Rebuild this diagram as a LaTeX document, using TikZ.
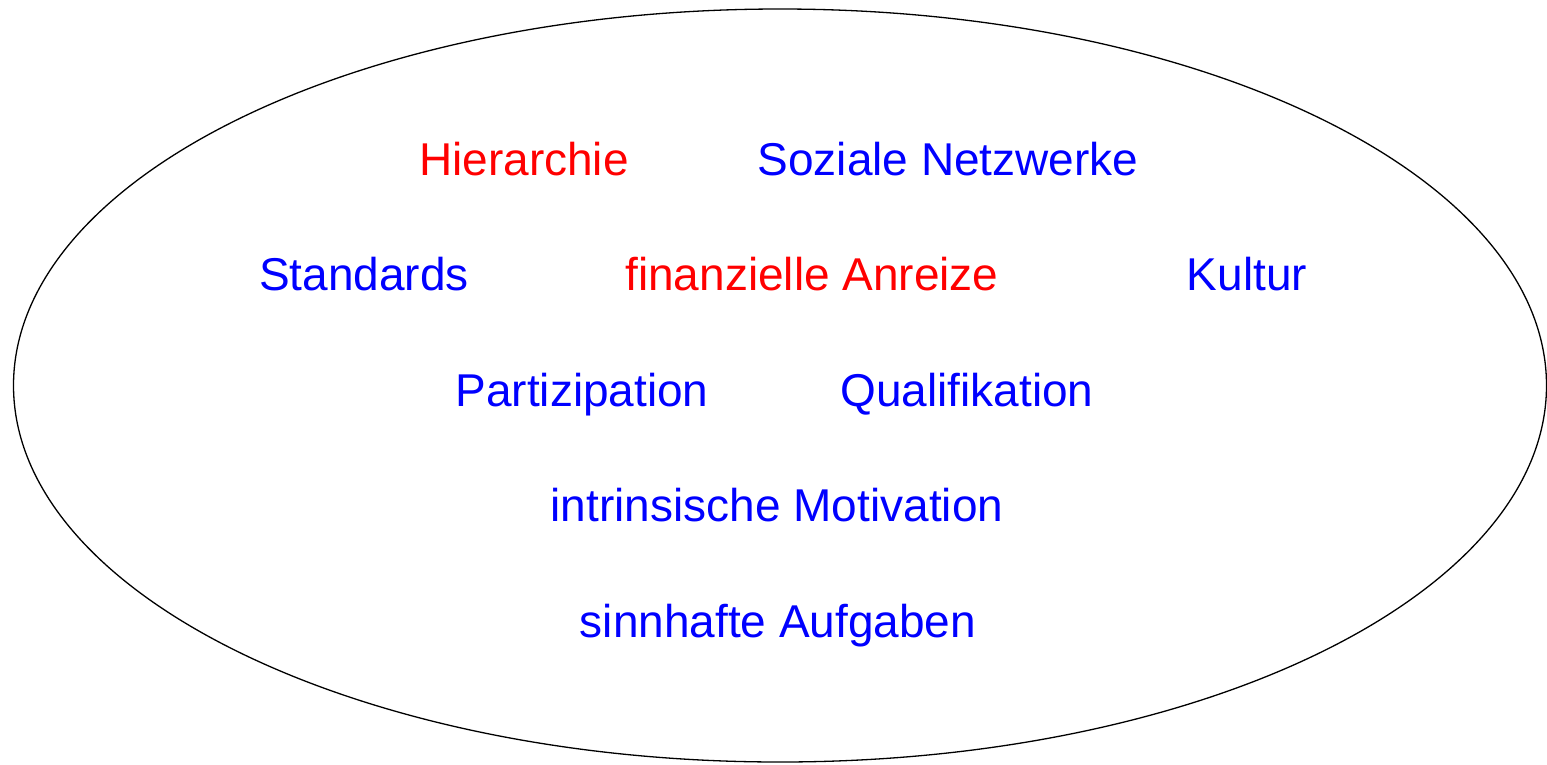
\documentclass[tikz,border=0pt]{standalone}
\usepackage{fontspec}
\setmainfont{Liberation Sans}
\definecolor{txtred}{RGB}{255,0,0}
\definecolor{txtblue}{RGB}{0,0,255}
\begin{document}
\begin{tikzpicture}[x=1pt,y=-1pt,
  lbl/.style={inner sep=0pt,anchor=base,font=\fontsize{46}{52}\selectfont},
  redlbl/.style={lbl,text=txtred},
  bluelbl/.style={lbl,text=txtblue}]
\useasboundingbox (0,0) rectangle (1547,764);
\draw[line width=1.3pt] (780,385.5) ellipse [x radius=766.5, y radius=376.5];
\node[redlbl]  (hier) at (524,175) {Hierarchie};
\node[bluelbl] (soz)  at (948,175) {Soziale Netzwerke};
\node[bluelbl] (std)  at (364,290) {Standards};
\node[redlbl]  (fin)  at (812,290) {finanzielle Anreize};
\node[bluelbl] (kul)  at (1247,290) {Kultur};
\node[bluelbl] (part) at (582,406) {Partizipation};
\node[bluelbl] (qual) at (967,406) {Qualifikation};
\node[bluelbl] (intr) at (777,521) {intrinsische Motivation};
\node[bluelbl] (sinn) at (778,637) {sinnhafte Aufgaben};
\end{tikzpicture}
\end{document}
